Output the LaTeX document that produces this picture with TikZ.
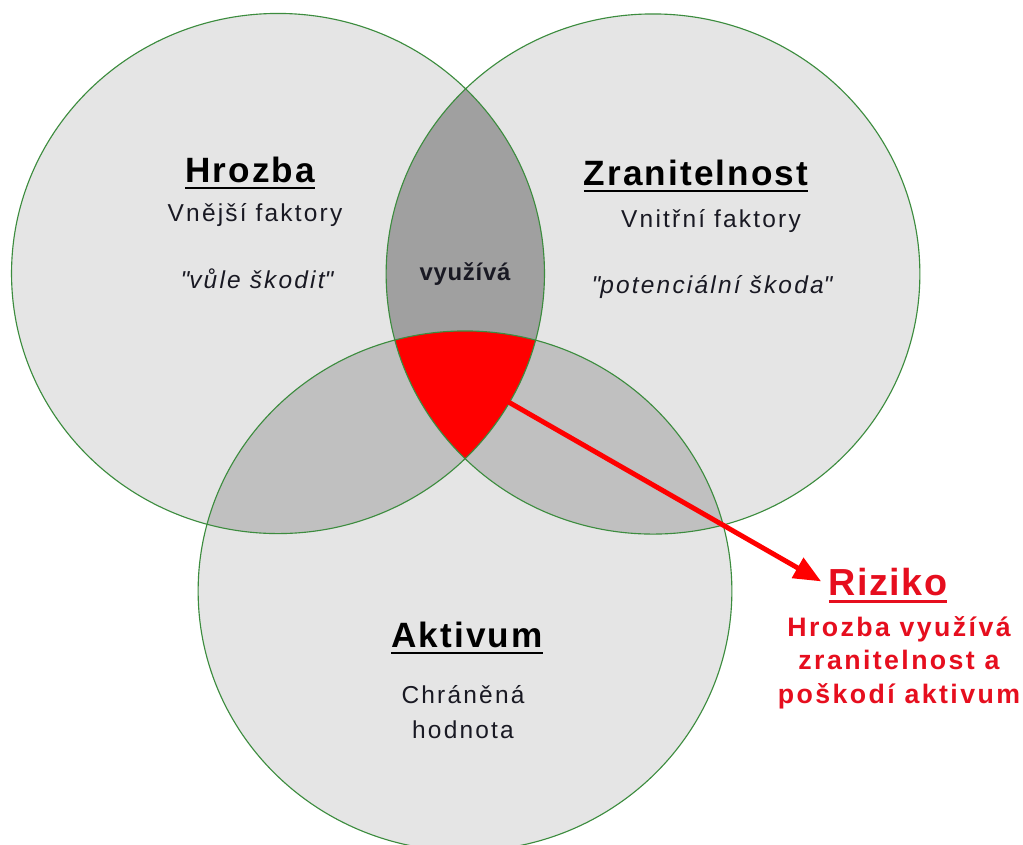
\documentclass[tikz,border=0pt]{standalone}
\usepackage{fontspec}
\setmainfont{Liberation Sans}
\usetikzlibrary{arrows.meta}

\definecolor{svetla}{RGB}{229,229,229}
\definecolor{stredni}{RGB}{192,192,192}
\definecolor{tmava}{RGB}{160,160,160}
\definecolor{obrys}{RGB}{60,140,62}
\definecolor{cervena}{RGB}{255,0,0}
\definecolor{cervtext}{RGB}{230,14,30}
\definecolor{textbarva}{RGB}{25,25,35}

% kruhy (mirne elipticke jako v originale)
\newcommand{\kruhHrozba}{(278,273.5) ellipse [x radius=6.66cm, y radius=6.5cm]}
\newcommand{\kruhZranit}{(653,274) ellipse [x radius=6.67cm, y radius=6.5cm]}
\newcommand{\kruhAktivum}{(465,591) ellipse [x radius=6.67cm, y radius=6.5cm]}
\newcommand{\podtrzene}[2]{\setbox0\hbox{#2}\rlap{\rule[-#1]{\wd0}{2.1pt}}\box0}

\begin{document}
\begin{tikzpicture}
            [x=0.025cm, y=-0.025cm,
             nadpis/.style={anchor=base, inner sep=0pt, text=black,
               font=\fontsize{25}{30}\selectfont\bfseries\addfontfeature{LetterSpace=6}},
             popis/.style={anchor=base, inner sep=0pt, text=textbarva, align=center,
               font=\fontsize{17.4}{24.9}\selectfont\addfontfeature{LetterSpace=9}},
             citat/.style={popis, font=\fontsize{17.4}{24.9}\selectfont\itshape\addfontfeature{LetterSpace=9}},
             vztah/.style={anchor=base, inner sep=0pt, text=textbarva,
               font=\fontsize{17}{20}\selectfont\bfseries\addfontfeature{LetterSpace=3}},
             rizhlava/.style={anchor=base, inner sep=0pt, text=cervtext,
               font=\fontsize{26.8}{32}\selectfont\bfseries\addfontfeature{LetterSpace=4}},
             riztext/.style={anchor=base, inner sep=0pt, text=cervtext, align=center,
               font=\fontsize{19}{23.5}\selectfont\bfseries\addfontfeature{LetterSpace=9}},
             sipka/.style={-{Triangle[length=0.68cm, width=0.56cm]}, line width=3.5pt, draw=cervena,
               shorten >=6pt},
             obrysy/.style={draw=obrys, line width=0.8pt}]
            \useasboundingbox[fill=white] (0,0) rectangle (1023,844);

            % plochy
            \fill[svetla] \kruhHrozba;
            \fill[svetla] \kruhZranit;
            \fill[svetla] \kruhAktivum;
            \begin{scope}
                \clip \kruhHrozba;
                \fill[tmava] \kruhZranit;
                \fill[stredni] \kruhAktivum;
            \end{scope}
            \begin{scope}
                \clip \kruhZranit;
                \fill[stredni] \kruhAktivum;
                \clip \kruhHrozba;
                \fill[cervena] \kruhAktivum;
            \end{scope}

            % obrysy
            \draw[obrysy] \kruhHrozba;
            \draw[obrysy] \kruhZranit;
            \draw[obrysy] \kruhAktivum;

            % popisky
            \node[nadpis] (hrozba) at (250,182) {\podtrzene{5.3pt}{Hrozba}};
            \node[popis] (vnejsi) at (255,221) {Vnější faktory};
            \node[citat] (vule) at (257,288) {\textquotedbl vůle škodit\textquotedbl};

            \node[nadpis] (zranit) at (696,185) {\podtrzene{5.3pt}{Zranitelnost}};
            \node[popis] (vnitrni) at (711,227) {Vnitřní faktory};
            \node[citat] (potenc) at (712,293) {\textquotedbl potenciální škoda\textquotedbl};

            \node[vztah] (vyuziva) at (465,280) {využívá};

            \node[nadpis] (aktivum) at (467,647) {\podtrzene{5.3pt}{Aktivum}};
            \node[popis] (chranena) at (463,738) {Chráněná\\hodnota};

            \node[rizhlava] (riziko) at (888,595) {\podtrzene{6pt}{Riziko}};
            \node[riztext] (rizpopis) at (899,703) {Hrozba využívá\\zranitelnost a\\poškodí aktivum};

            \coordinate (jadro) at (505,400);
            \path[sipka] (jadro) -- (riziko.west);
\end{tikzpicture}
\end{document}
